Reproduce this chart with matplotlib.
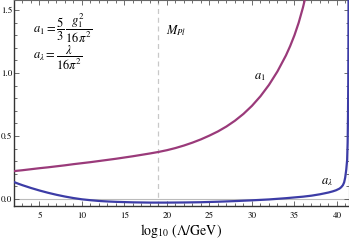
import numpy as np
import matplotlib
matplotlib.use("Agg")
import matplotlib.pyplot as plt
from matplotlib.ticker import MultipleLocator

# values
a1_x = [2, 3, 4, 5, 6, 7, 8, 9, 10, 11, 12, 13, 14, 15, 16, 17, 18, 19, 20,
        21, 22, 23, 24, 25, 26, 27, 28, 29, 30, 31, 32, 33, 34, 34.5,
        35, 35.5, 36, 36.5]
a1_y = [0.222, 0.229, 0.237, 0.245, 0.252, 0.260, 0.268, 0.277, 0.285, 0.293,
        0.302, 0.311, 0.320, 0.330, 0.340, 0.351, 0.362, 0.374, 0.388, 0.405,
        0.425, 0.448, 0.474, 0.504, 0.537, 0.576, 0.622, 0.676, 0.740, 0.816,
        0.906, 1.013, 1.140, 1.215, 1.300, 1.400, 1.520, 1.660]

al_x = [2, 2.5, 3, 4, 5, 6, 7, 8, 9, 10, 11, 12, 13, 14, 16, 18, 20, 22, 24,
        26, 28, 30, 32, 34, 35, 36, 37, 38, 39, 39.5, 39.9, 40.3, 40.5, 40.7,
        40.85, 40.97, 41.1, 41.2, 41.26, 41.3, 41.33, 41.35, 41.37]
al_y = [0.135, 0.122, 0.110, 0.088, 0.068, 0.050, 0.034, 0.020, 0.008, -0.002,
        -0.009, -0.015, -0.019, -0.022, -0.026, -0.028, -0.028, -0.027, -0.025,
        -0.021, -0.016, -0.010, -0.003, 0.007, 0.013, 0.019, 0.027, 0.038,
        0.052, 0.061, 0.070, 0.083, 0.094, 0.110, 0.133, 0.170, 0.235, 0.310,
        0.450, 0.650, 0.900, 1.200, 1.700]

x_planck = 19.0

plt.rcParams["mathtext.fontset"] = "stix"
plt.rcParams["font.family"] = "STIXGeneral"

fig = plt.figure(figsize=(3.49, 2.41), dpi=100)
ax = fig.add_axes([14 / 349, 35 / 241, 335 / 349, 206 / 241])

ax.axhline(0, color="#bbbbbb", lw=0.8, zorder=1)
ax.axvline(x_planck, color="#c8c8c8", lw=0.9, ls=(0, (4, 3)), zorder=1)

ax.plot(a1_x, a1_y, color="#9a3a7a", lw=1.6, zorder=3)
ax.plot(al_x, al_y, color="#3c3ca6", lw=1.6, zorder=3)

ax.set_xlim(2, 41.42)
ax.set_ylim(-0.055, 1.58)

ax.xaxis.set_major_locator(MultipleLocator(5))
ax.xaxis.set_minor_locator(MultipleLocator(1))
ax.yaxis.set_major_locator(MultipleLocator(0.5))
ax.yaxis.set_minor_locator(MultipleLocator(0.1))
ax.tick_params(which="both", direction="in", top=True, right=True,
               labelsize=6.5, color="#555555", width=0.6)
ax.tick_params(which="major", length=3.5)
ax.tick_params(which="minor", length=2)
ax.tick_params(axis="x", pad=4)
ax.tick_params(axis="y", pad=1.5)
ax.set_yticks([0.0, 0.5, 1.0, 1.5])
ax.set_yticklabels(["0.0", "0.5", "1.0", "1.5"])

for s in ["left", "bottom"]:
    ax.spines[s].set_color("#333333")
    ax.spines[s].set_linewidth(1.0)
for s in ["top", "right"]:
    ax.spines[s].set_color("#666666")
    ax.spines[s].set_linewidth(0.8)

ax.set_xlabel(r"$\log_{10}\,(\Lambda/\mathrm{GeV})$", fontsize=10, labelpad=2)

ax.text(4.2, 1.36, r"$a_1 = \dfrac{5}{3}\,\dfrac{g_1^2}{16\pi^2}$", fontsize=9, va="center")
ax.text(4.2, 1.12, r"$a_\lambda = \dfrac{\lambda}{16\pi^2}$", fontsize=9, va="center")
ax.text(19.9, 1.34, r"$M_{Pl}$", fontsize=9, va="center")
ax.text(30.3, 0.97, r"$a_1$", fontsize=9, va="center")
ax.text(38.1, 0.135, r"$a_\lambda$", fontsize=9, va="center")

fig.savefig("out.png", dpi=100)
